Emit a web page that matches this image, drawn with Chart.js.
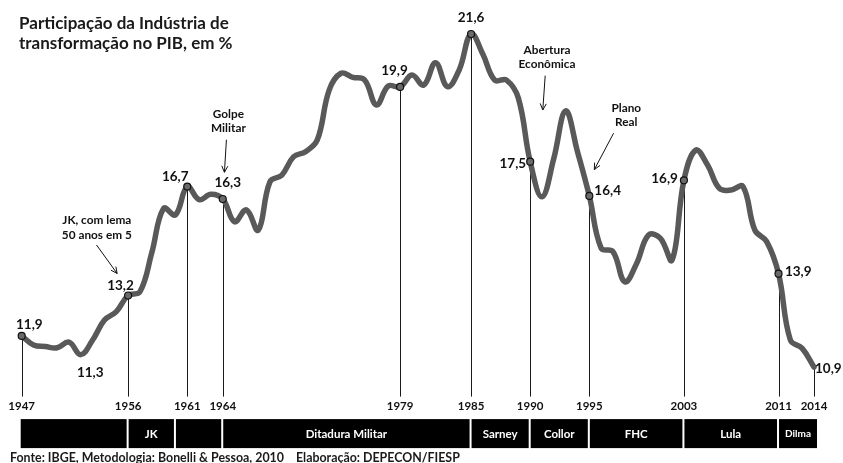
<!DOCTYPE html>
<html><head><meta charset="utf-8">
<script src="https://cdn.jsdelivr.net/npm/chart.js@4"></script>
<style>
html,body{margin:0;padding:0;background:#fff;}
#wrap{position:relative;width:843px;height:463px;overflow:hidden;background:#fff;}
canvas{position:absolute;left:0;top:0;}
</style></head>
<body><div id="wrap"><canvas id="c" width="843" height="463"></canvas></div>
<script>
// ---------- DATA ----------
const years = [1947,1948,1949,1950,1951,1952,1953,1954,1955,1956,1957,1958,1959,1960,1961,1962,1963,1964,1965,1966,1967,1968,1969,1970,1971,1972,1973,1974,1975,1976,1977,1978,1979,1980,1981,1982,1983,1984,1985,1986,1987,1988,1989,1990,1991,1992,1993,1994,1995,1996,1997,1998,1999,2000,2001,2002,2003,2004,2005,2006,2007,2008,2009,2010,2011,2012,2013,2014];
const shareValues = [11.9,11.61,11.56,11.52,11.70,11.3,11.77,12.41,12.68,13.2,13.32,14.57,16.0,15.79,16.7,16.28,16.45,16.3,15.57,15.95,15.3,16.86,17.07,17.66,17.82,18.2,19.8,20.34,20.21,20.12,19.32,19.93,19.9,20.28,19.96,20.68,19.91,20.45,21.6,20.95,20.12,20.12,19.54,17.5,16.37,17.61,19.13,17.82,16.4,14.72,14.61,13.64,14.23,15.14,15.04,14.34,16.9,17.87,17.39,16.64,16.59,16.7,15.3,14.93,13.9,11.77,11.5,10.9];
const markedYears = [1947,1956,1961,1964,1979,1985,1990,1995,2003,2011,2014];
const markedLabels = ['11,9','13,2','16,7','16,3','19,9','21,6','17,5','16,4','16,9','13,9','10,9'];
const minYear = 1952;
const minLabel = '11,3';
const periodBounds = [1947,1956,1960,1964,1985,1990,1995,2003,2011,2014];
const periodNames = ['','JK','','Ditadura Militar','Sarney','Collor','FHC','Lula','Dilma'];
const noteYears = [1956,1964,1990,1995];
const noteTexts = [['JK, com lema','50 anos em 5'],['Golpe','Militar'],['Abertura','Econômica'],['Plano','Real']];
const titleLines = ['Participação da Indústria de','transformação no PIB, em %'];
const sourceTexts = ['Fonte: IBGE, Metodologia: Bonelli & Pessoa, 2010','Elaboração: DEPECON/FIESP'];

// ---------- DRAWING ----------
const F = 'Lato, "Open Sans", sans-serif';
const valueAt = yr => shareValues[years.indexOf(yr)];

const labelPlace = [
  {a:'center',dx:7.6,dy:-11},{a:'center',dx:-7.6,dy:-9.5},{a:'center',dx:-12,dy:-10},
  {a:'center',dx:5,dy:-16.7},{a:'center',dx:-5.6,dy:-16.4},{a:'center',dx:0,dy:-16},
  {a:'right',dx:-4,dy:2.3},{a:'left',dx:5,dy:-5.3},{a:'right',dx:-6,dy:-1.7},
  {a:'left',dx:6.4,dy:-1.7},{a:'left',dx:1,dy:2}
];
const notePlace = [
  {dx:-31.3,dy:-75,ax1:-31.6,ay1:-50.5,ax2:-11,ay2:-22},
  {dx:5.7,dy:-84.8,ax1:3.7,ay1:-59.3,ax2:1.7,ay2:-26.7},
  {dx:16.8,dy:-111.7,ax1:15,ay1:-86,ax2:12.6,ay2:-51.7},
  {dx:37,dy:-87.8,ax1:24.3,ay1:-62.7,ax2:5,ay2:-26.3}
];

function arrow(ctx,x1,y1,x2,y2){
  ctx.beginPath();ctx.moveTo(x1,y1);ctx.lineTo(x2,y2);ctx.stroke();
  const ang=Math.atan2(y2-y1,x2-x1), L=7, w=0.45;
  ctx.beginPath();
  ctx.moveTo(x2-L*Math.cos(ang-w),y2-L*Math.sin(ang-w));
  ctx.lineTo(x2,y2);
  ctx.lineTo(x2-L*Math.cos(ang+w),y2-L*Math.sin(ang+w));
  ctx.stroke();
}

const overlay = {
  id:'overlay',
  beforeDatasetsDraw(chart){
    const {ctx,scales:{x,y},chartArea:ca}=chart;
    ctx.save();
    ctx.strokeStyle='#1a1a1a';ctx.lineWidth=1;
    markedYears.forEach(yr=>{
      const px=Math.round(x.getPixelForValue(yr))+0.5;
      ctx.beginPath();ctx.moveTo(px,y.getPixelForValue(valueAt(yr)));ctx.lineTo(px,ca.bottom+1.5);ctx.stroke();
    });
    ctx.restore();
  },
  afterDraw(chart){
    const {ctx,scales:{x,y},chartArea:ca}=chart;
    ctx.save();
    // value labels
    ctx.fillStyle='#111';ctx.font='bold 13.5px '+F;ctx.textBaseline='middle';
    markedYears.forEach((yr,i)=>{
      const o=labelPlace[i];
      ctx.textAlign=o.a;
      ctx.fillText(markedLabels[i],x.getPixelForValue(yr)+o.dx,y.getPixelForValue(valueAt(yr))+o.dy);
    });
    ctx.textAlign='center';
    ctx.fillText(minLabel,x.getPixelForValue(minYear)+9.4,y.getPixelForValue(valueAt(minYear))+18);
    // annotations
    ctx.font='bold 11.8px '+F;ctx.strokeStyle='#111';ctx.lineWidth=1;
    noteYears.forEach((yr,i)=>{
      const px=x.getPixelForValue(yr),py=y.getPixelForValue(valueAt(yr)),o=notePlace[i];
      noteTexts[i].forEach((t,j)=>ctx.fillText(t,px+o.dx,py+o.dy+j*14.5));
      arrow(ctx,px+o.ax1,py+o.ay1,px+o.ax2,py+o.ay2);
    });
    // period bar
    const top=ca.bottom+24,h=29;
    for(let i=0;i<periodNames.length;i++){
      let x0=x.getPixelForValue(periodBounds[i])+0.5, x1=x.getPixelForValue(periodBounds[i+1])-1.5;
      if(i===0) x0-=1.5;
      if(i===periodNames.length-1) x1+=4.5;
      ctx.fillStyle='#000';ctx.fillRect(x0,top,x1-x0,h);
      if(periodNames[i]){
        ctx.fillStyle='#fff';
        ctx.font=(periodNames[i]==='Dilma'?'bold 10px ':'bold 11.5px ')+F;
        ctx.fillText(periodNames[i],(x0+x1)/2,top+h/2+0.5);
      }
    }
    // title
    ctx.fillStyle='#1a1a1a';ctx.textAlign='left';ctx.textBaseline='alphabetic';
    ctx.font='bold 17px '+F;
    titleLines.forEach((t,i)=>ctx.fillText(t,19,29.3+i*20));
    // source
    ctx.font='bold 12.4px '+F;
    ctx.fillText(sourceTexts[0],10,462);
    ctx.fillText(sourceTexts[1],296,462);
    ctx.restore();
  }
};

function build(){
  new Chart(document.getElementById('c'),{
    type:'line',
    data:{datasets:[{
      data:years.map((yr,i)=>({x:yr,y:shareValues[i]})),
      borderColor:'#595959',borderWidth:5.5,tension:0.4,fill:false,clip:false,
      borderCapStyle:'round',borderJoinStyle:'round',
      pointRadius:c=>{const yr=years[c.dataIndex];return (markedYears.includes(yr)&&yr!==2014)?3.5:0;},
      pointBackgroundColor:'#6a6a6a',pointBorderColor:'#111',pointBorderWidth:1.2
    }]},
    options:{
      responsive:false,animation:false,devicePixelRatio:1,
      layout:{autoPadding:false,padding:{left:21.7,right:29,top:6,bottom:47.9}},
      plugins:{legend:{display:false},tooltip:{enabled:false},title:{display:false}},
      scales:{
        x:{type:'linear',min:1947,max:2014,
          grid:{display:false,drawTicks:false},border:{display:false},
          afterBuildTicks:s=>{s.ticks=markedYears.map(v=>({value:v}));},
          afterFit:s=>{s.height=20;},
          ticks:{autoSkip:false,maxRotation:0,padding:4,color:'#111',
            font:{family:F,weight:'bold',size:11.5},callback:v=>String(v)}},
        y:{display:false,min:10,max:22.5}
      }
    },
    plugins:[overlay]
  });
}
(document.fonts&&document.fonts.load?Promise.all([document.fonts.load('bold 13px Lato'),document.fonts.load('13px Lato')]):Promise.resolve()).then(build,build);
</script>
</body></html>
